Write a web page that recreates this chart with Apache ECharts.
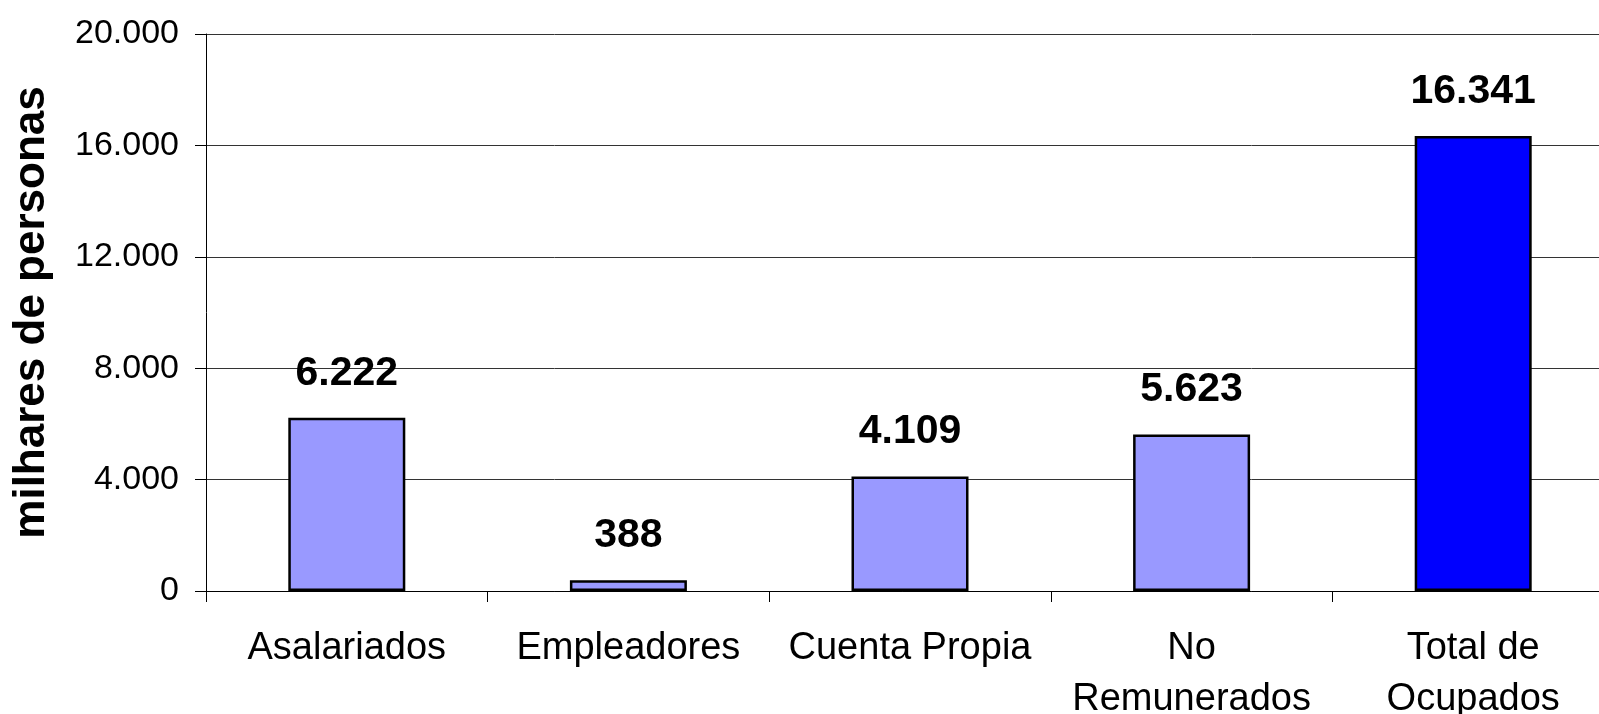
<!DOCTYPE html>
<html>
<head>
<meta charset="utf-8">
<script src="https://cdn.jsdelivr.net/npm/echarts@6/dist/echarts.min.js"></script>
<style>
  html, body { margin: 0; padding: 0; background: #fff; }
  #chart { width: 1599px; height: 714px; }
</style>
</head>
<body>
<div id="chart"></div>
<script>
// categories and values (miles de personas)
var categories = ['Asalariados', 'Empleadores', 'Cuenta Propia', 'No\nRemunerados', 'Total de\nOcupados'];
var values = [6222, 388, 4109, 5623, 16341];
var barColors = ['#9999FF', '#9999FF', '#9999FF', '#9999FF', '#0000FF'];
var yTicks = { min: 0, max: 20000, interval: 4000 };

function fmt(v) {
  return String(v).replace(/\B(?=(\d{3})+(?!\d))/g, '.');
}

var chart = echarts.init(document.getElementById('chart'));
chart.setOption({
  animation: false,
  grid: { left: 206, right: -15, top: 34, bottom: 123, containLabel: false, outerBoundsMode: 'none' },
  xAxis: {
    type: 'category',
    data: categories,
    axisLine: { lineStyle: { color: '#000', width: 1 } },
    axisTick: { show: true, length: 11, lineStyle: { color: '#000' } },
    axisLabel: {
      color: '#000',
      fontFamily: 'Liberation Sans, Arial, sans-serif',
      fontSize: 38,
      lineHeight: 51,
      margin: 32,
      interval: 0
    }
  },
  yAxis: {
    type: 'value',
    min: yTicks.min,
    max: yTicks.max,
    interval: yTicks.interval,
    name: 'milhares de personas',
    nameLocation: 'middle',
    nameGap: 152,
    nameTextStyle: {
      color: '#000',
      fontFamily: 'Liberation Sans, Arial, sans-serif',
      fontSize: 44,
      fontWeight: 'bold'
    },
    axisLine: { show: true, lineStyle: { color: '#000', width: 1 } },
    axisTick: { show: true, length: 11, lineStyle: { color: '#000' } },
    axisLabel: {
      color: '#000',
      fontFamily: 'Liberation Sans, Arial, sans-serif',
      fontSize: 34,
      margin: 27,
      formatter: fmt
    },
    splitLine: { lineStyle: { color: '#333', width: 1 } }
  },
  series: [{
    type: 'bar',
    barWidth: 117,
    data: values.map(function (v, i) {
      return { value: v, itemStyle: { color: barColors[i] } };
    }),
    itemStyle: { borderColor: '#000', borderWidth: 2.5 },
    label: {
      show: true,
      position: 'top',
      distance: 24,
      color: '#000',
      fontFamily: 'Liberation Sans, Arial, sans-serif',
      fontSize: 41,
      fontWeight: 'bold',
      formatter: function (p) { return fmt(p.value); }
    }
  }]
});
</script>
</body>
</html>
